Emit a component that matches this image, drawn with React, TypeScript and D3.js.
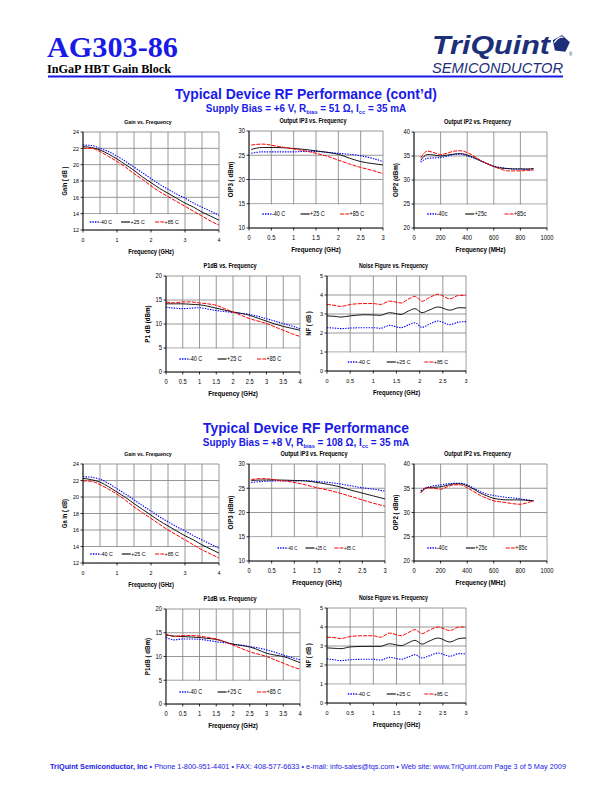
import React from 'react';
import * as d3 from 'd3';

// ---------- DATA ----------
const legendC = ['-40 C', '+25 C', '+85 C'];
const legendc = ['-40c', '+25c', '+85c'];

const gainFreq = [0, 0.25, 0.5, 0.75, 1, 1.25, 1.5, 1.75, 2, 2.25, 2.5, 2.75, 3, 3.25, 3.5, 3.75, 4];
const gain6Vm40 = [22.4, 22.35, 22.0, 21.6, 21.05, 20.4, 19.7, 19.0, 18.3, 17.6, 17.0, 16.4, 15.9, 15.3, 14.8, 14.3, 13.8];
const gain6V25 = [22.2, 22.1, 21.8, 21.3, 20.7, 20.0, 19.3, 18.5, 17.8, 17.1, 16.5, 15.9, 15.3, 14.8, 14.2, 13.7, 13.2];
const gain6V85 = [22.0, 22.0, 21.6, 21.0, 20.4, 19.7, 18.9, 18.2, 17.4, 16.7, 16.1, 15.5, 14.9, 14.3, 13.7, 13.1, 12.6];
const gain8Vm40 = [22.45, 22.4, 22.15, 21.65, 21.0, 20.35, 19.65, 18.95, 18.3, 17.6, 17.0, 16.4, 15.9, 15.3, 14.8, 14.3, 13.8];
const gain8V25 = [22.25, 22.1, 21.8, 21.25, 20.6, 19.95, 19.2, 18.5, 17.8, 17.1, 16.5, 15.9, 15.3, 14.8, 14.2, 13.7, 13.2];
const gain8V85 = [21.95, 21.9, 21.5, 20.95, 20.35, 19.6, 18.8, 18.1, 17.4, 16.7, 16.0, 15.4, 14.8, 14.2, 13.6, 13.1, 12.6];

const oip3Freq = [0.05, 0.3, 0.6, 1, 1.25, 1.5, 1.75, 2, 2.25, 2.5, 2.75, 3];
const oip3_6Vm40 = [25.4, 25.7, 25.7, 25.7, 25.8, 25.8, 25.6, 25.4, 25.2, 24.9, 24.4, 23.7];
const oip3_6V25 = [26.2, 26.6, 26.6, 26.4, 26.2, 25.9, 25.6, 25.2, 24.4, 23.7, 23.3, 23.0];
const oip3_6V85 = [27.1, 27.3, 26.9, 26.3, 25.9, 25.4, 24.8, 24.0, 23.2, 22.5, 21.9, 21.2];
const oip3_8Vm40 = [26.2, 26.4, 26.5, 26.5, 26.6, 26.4, 26.2, 25.9, 25.5, 25.1, 24.8, 24.4];
const oip3_8V25 = [26.6, 26.7, 26.7, 26.6, 26.5, 26.2, 25.8, 25.3, 24.6, 24.0, 23.4, 22.8];
const oip3_8V85 = [26.8, 27.0, 26.7, 26.2, 25.7, 25.1, 24.6, 24.0, 23.3, 22.6, 21.9, 21.3];

const oip2Freq = [50, 100, 150, 200, 250, 300, 350, 400, 450, 500, 550, 600, 650, 700, 750, 800, 850, 900];
const oip2_6Vm40 = [33.7, 34.5, 34.6, 34.7, 35.0, 35.3, 35.4, 35.0, 34.6, 34.0, 33.4, 32.9, 32.6, 32.4, 32.3, 32.3, 32.2, 32.1];
const oip2_6V25 = [34.1, 35.3, 35.2, 35.0, 35.2, 35.4, 35.5, 35.2, 34.7, 34.0, 33.4, 32.8, 32.5, 32.4, 32.3, 32.3, 32.3, 32.4];
const oip2_6V85 = [34.6, 36.0, 35.7, 35.3, 35.6, 36.0, 36.1, 35.7, 35.0, 34.1, 33.4, 32.8, 32.3, 31.9, 31.9, 31.9, 32.0, 32.1];
const oip2_8Vm40 = [34.5, 35.2, 35.5, 35.7, 35.9, 36.0, 36.0, 35.7, 35.0, 34.3, 33.8, 33.5, 33.3, 33.1, 33.0, 32.8, 32.6, 32.4];
const oip2_8V25 = [34.2, 35.1, 35.2, 35.3, 35.6, 35.9, 35.9, 35.5, 34.8, 34.0, 33.4, 32.9, 32.7, 32.6, 32.6, 32.6, 32.5, 32.4];
const oip2_8V85 = [34.0, 35.1, 35.0, 34.8, 35.3, 35.7, 35.7, 35.1, 34.3, 33.5, 32.9, 32.4, 32.2, 32.0, 31.8, 31.7, 32.0, 32.4];

const p1dbFreq = [0, 0.25, 0.5, 0.75, 1, 1.25, 1.5, 1.75, 2, 2.25, 2.5, 2.75, 3, 3.25, 3.5, 3.75, 4];
const p1db_6Vm40 = [13.5, 13.3, 13.2, 13.3, 13.4, 13.1, 12.8, 12.6, 12.4, 12.2, 12.0, 11.6, 11.1, 10.6, 10.1, 9.6, 9.0];
const p1db_6V25 = [14.2, 14.2, 14.2, 14.1, 14.0, 13.7, 13.3, 12.9, 12.5, 12.2, 11.8, 11.2, 10.6, 10.0, 9.5, 9.1, 8.7];
const p1db_6V85 = [14.6, 14.4, 14.6, 14.6, 14.4, 14.2, 13.9, 13.2, 12.5, 11.8, 11.1, 10.6, 10.1, 9.4, 8.7, 8.0, 7.4];
const p1db_8Vm40 = [14.0, 13.5, 13.7, 13.7, 13.6, 13.4, 13.1, 12.9, 12.6, 12.4, 12.1, 11.8, 11.4, 10.9, 10.3, 9.8, 9.3];
const p1db_8V25 = [14.5, 14.3, 14.2, 14.1, 14.0, 13.8, 13.6, 13.1, 12.6, 12.3, 12.0, 11.4, 10.7, 10.3, 10.0, 9.4, 8.7];
const p1db_8V85 = [14.7, 14.2, 14.4, 14.4, 14.3, 14.0, 13.7, 13.1, 12.4, 11.7, 11.0, 10.5, 10.0, 9.3, 8.6, 7.9, 7.3];

const nfFreq = [0, 0.15, 0.3, 0.5, 0.8, 1, 1.15, 1.35, 1.6, 1.75, 1.9, 2.05, 2.2, 2.4, 2.65, 2.85, 3];
const nf_6Vm40 = [2.28, 2.26, 2.23, 2.26, 2.28, 2.28, 2.25, 2.40, 2.28, 2.42, 2.54, 2.30, 2.45, 2.63, 2.44, 2.58, 2.60];
const nf_6V25 = [2.90, 2.88, 2.84, 2.90, 2.96, 2.95, 2.93, 3.07, 2.98, 3.15, 3.28, 3.07, 3.20, 3.37, 3.20, 3.33, 3.32];
const nf_6V85 = [3.50, 3.46, 3.40, 3.50, 3.55, 3.55, 3.50, 3.68, 3.58, 3.78, 3.93, 3.67, 3.85, 4.04, 3.80, 3.98, 3.98];
const nf_8Vm40 = [2.32, 2.28, 2.23, 2.28, 2.30, 2.30, 2.26, 2.40, 2.30, 2.42, 2.54, 2.37, 2.48, 2.63, 2.46, 2.60, 2.58];
const nf_8V25 = [2.90, 2.88, 2.86, 2.95, 2.98, 2.98, 2.98, 3.12, 3.02, 3.16, 3.30, 3.10, 3.25, 3.42, 3.21, 3.39, 3.42];
const nf_8V85 = [3.46, 3.44, 3.39, 3.50, 3.54, 3.54, 3.46, 3.68, 3.54, 3.70, 3.86, 3.65, 3.82, 4.00, 3.81, 4.00, 4.00];

const ticksGain = [12, 14, 16, 18, 20, 22, 24];
const ticksGainX = [0, 1, 2, 3, 4];
const ticksOip3 = [10, 15, 20, 25, 30];
const ticksOip2 = [20, 25, 30, 35, 40];
const ticksP1 = [0, 5, 10, 15, 20];
const ticksNF = [0, 1, 2, 3, 4, 5];
const ticks3G = [0, 0.5, 1, 1.5, 2, 2.5, 3];
const ticks4G = [0, 0.5, 1, 1.5, 2, 2.5, 3, 3.5, 4];
const ticksMHz = [0, 200, 400, 600, 800, 1000];

// ---------- STYLE ----------
const FONT = 'Liberation Sans, Arial, Helvetica, sans-serif';
const HEAD_BLUE = '#1a1ae8';
const LOGO_BLUE = '#1c2f78';
const STYLES = [
  { color: '#0000ff', dash: '1.4,1.2', width: 1.1 },
  { color: '#000000', dash: '', width: 0.9 },
  { color: '#ff0000', dash: '4,1.2', width: 1.0 },
];

function CText(props: any) {
  const x = props.x;
  const y = props.y;
  const size = props.size;
  const sx = props.sx ?? 0.85;
  const anchor = props.anchor ?? 'middle';
  const weight = props.weight ?? 'normal';
  const rotate = props.rotate ?? 0;
  const fill = props.fill ?? '#000';
  const tr = 'translate(' + x + ',' + y + ')' + (rotate ? ' rotate(' + rotate + ')' : '') + ' scale(' + sx + ',1)';
  return (
    <text transform={tr} fontSize={size} fontWeight={weight} textAnchor={anchor} fontFamily={FONT} fill={fill}>
      {props.children}
    </text>
  );
}

function Chart(props: any) {
  const c = props.c;
  const xs = d3.scaleLinear().domain(c.xDomain).range([c.L, c.R]);
  const ys = d3.scaleLinear().domain(c.yDomain).range([c.B, c.T]);
  const line = d3
    .line<[number, number]>()
    .x((d) => xs(d[0]))
    .y((d) => ys(d[1]))
    .curve(d3.curveMonotoneX);
  const grid = '#8c8c8c';
  const boxTop = ys(c.yTicks[1]) + 0.6;
  const w = c.R - c.L;
  const cx = (c.L + c.R) / 2;
  return (
    <g>
      {c.xGrid.map((v: number) => (
        <line key={'gx' + v} x1={xs(v)} x2={xs(v)} y1={c.T} y2={c.B} stroke={grid} strokeWidth={0.9} />
      ))}
      {c.yTicks.map((v: number) => (
        <line key={'gy' + v} x1={c.L} x2={c.R} y1={ys(v)} y2={ys(v)} stroke={grid} strokeWidth={0.9} />
      ))}
      <rect x={c.L + 0.6} y={boxTop} width={w * c.legendBox} height={c.B - boxTop - 0.6} fill="#fff" />
      {c.ys.map((yy: number[], i: number) => (
        <path
          key={'s' + i}
          d={line(c.x.map((xv: number, j: number) => [xv, yy[j]] as [number, number])) || ''}
          fill="none"
          stroke={STYLES[i].color}
          strokeWidth={STYLES[i].width}
          strokeDasharray={STYLES[i].dash || undefined}
        />
      ))}
      <line x1={c.L} x2={c.L} y1={c.T} y2={c.B} stroke="#000" strokeWidth={0.9} />
      <line x1={c.L} x2={c.R} y1={c.B} y2={c.B} stroke="#000" strokeWidth={0.9} />
      {c.yTicks.map((v: number) => (
        <g key={'yt' + v}>
          <line x1={c.L - 2.5} x2={c.L} y1={ys(v)} y2={ys(v)} stroke="#000" strokeWidth={0.8} />
          <CText x={c.L - 4} y={ys(v) + 2.3} size={6.6 * c.fs} anchor="end" sx={0.88}>
            {String(v)}
          </CText>
        </g>
      ))}
      {c.xTicks.map((v: number) => (
        <g key={'xt' + v}>
          <line x1={xs(v)} x2={xs(v)} y1={c.B} y2={c.B + 2.5} stroke="#000" strokeWidth={0.8} />
          <CText x={xs(v)} y={c.B + 12} size={6.6 * c.fs} sx={0.88}>
            {String(v)}
          </CText>
        </g>
      ))}
      <CText x={cx - 3} y={c.T - 8} size={6.8 * c.fs} weight="bold" sx={0.82}>
        {c.title}
      </CText>
      <CText x={cx} y={c.B + 24} size={7.4 * c.fs} weight="bold" sx={0.84}>
        {c.xLabel}
      </CText>
      <CText x={c.L - 16} y={(c.T + c.B) / 2} size={7.4 * c.fs} weight="bold" sx={0.84} rotate={-90}>
        {c.yLabel}
      </CText>
      {c.legend.map((lab: string, i: number) => {
        const lx = c.L + c.legendFrac[i] * w;
        const ly = c.B - c.legendDy;
        return (
          <g key={'lg' + i}>
            <line
              x1={lx}
              x2={lx + 9}
              y1={ly}
              y2={ly}
              stroke={STYLES[i].color}
              strokeWidth={STYLES[i].width + 0.2}
              strokeDasharray={STYLES[i].dash || undefined}
            />
            <CText x={lx + 9.5} y={ly + 2.2} size={c.legendFs} anchor="start" sx={0.85}>
              {lab}
            </CText>
          </g>
        );
      })}
    </g>
  );
}

function halfSteps(a: number, b: number) {
  return d3.range(a, b + 0.001, 0.5);
}

function buildCharts() {
  return [
    {
      L: 83, R: 219, T: 132, B: 230, xDomain: [0, 4], yDomain: [12, 24], xTicks: ticksGainX, xGrid: halfSteps(0, 4), yTicks: ticksGain,
      title: 'Gain vs. Frequency', yLabel: 'Gain ( dB )', xLabel: 'Frequency (GHz)',
      x: gainFreq, ys: [gain6Vm40, gain6V25, gain6V85], legend: legendC, legendFrac: [0.05, 0.28, 0.53], legendDy: 8, legendBox: 0.72, fs: 0.92, legendFs: 6.2,
    },
    {
      L: 249, R: 383, T: 131, B: 228, xDomain: [0, 3], yDomain: [10, 30], xTicks: ticks3G, xGrid: ticks3G, yTicks: ticksOip3,
      title: 'Output IP3 vs. Frequency', yLabel: 'OIP3 ( dBm)', xLabel: 'Frequency (GHz)',
      x: oip3Freq, ys: [oip3_6Vm40, oip3_6V25, oip3_6V85], legend: legendC, legendFrac: [0.1, 0.385, 0.68], legendDy: 14, legendBox: 0.99, fs: 1, legendFs: 6.4,
    },
    {
      L: 414, R: 547, T: 132, B: 228, xDomain: [0, 1000], yDomain: [20, 40], xTicks: ticksMHz, xGrid: ticksMHz, yTicks: ticksOip2,
      title: 'Output IP2 vs. Frequency', yLabel: 'OIP2 (dBm)', xLabel: 'Frequency (MHz)',
      x: oip2Freq, ys: [oip2_6Vm40, oip2_6V25, oip2_6V85], legend: legendc, legendFrac: [0.1, 0.385, 0.68], legendDy: 14, legendBox: 0.99, fs: 1, legendFs: 6.4,
    },
    {
      L: 166, R: 300, T: 276, B: 372, xDomain: [0, 4], yDomain: [0, 20], xTicks: ticks4G, xGrid: ticks4G, yTicks: ticksP1,
      title: 'P1dB vs. Frequency', yLabel: 'P1 dB (dBm)', xLabel: 'Frequency (GHz)',
      x: p1dbFreq, ys: [p1db_6Vm40, p1db_6V25, p1db_6V85], legend: legendC, legendFrac: [0.1, 0.385, 0.68], legendDy: 13, legendBox: 0.99, fs: 1, legendFs: 6.4,
    },
    {
      L: 327, R: 466, T: 276, B: 371, xDomain: [0, 3], yDomain: [0, 5], xTicks: ticks3G, xGrid: ticks3G, yTicks: ticksNF,
      title: 'Noise Figure vs. Frequency', yLabel: 'NF ( dB )', xLabel: 'Frequency (GHz)',
      x: nfFreq, ys: [nf_6Vm40, nf_6V25, nf_6V85], legend: legendC, legendFrac: [0.15, 0.43, 0.7], legendDy: 9, legendBox: 0.99, fs: 0.95, legendFs: 6.2,
    },
    {
      L: 83, R: 219, T: 464, B: 563, xDomain: [0, 4], yDomain: [12, 24], xTicks: ticksGainX, xGrid: halfSteps(0, 4), yTicks: ticksGain,
      title: 'Gain vs. Frequency', yLabel: 'Ga in ( dB)', xLabel: 'Frequency (GHz)',
      x: gainFreq, ys: [gain8Vm40, gain8V25, gain8V85], legend: legendC, legendFrac: [0.054, 0.285, 0.53], legendDy: 9, legendBox: 0.72, fs: 0.92, legendFs: 6.2,
    },
    {
      L: 249, R: 385, T: 464, B: 561, xDomain: [0, 3], yDomain: [10, 30], xTicks: ticks3G, xGrid: ticks3G, yTicks: ticksOip3,
      title: 'Output IP3 vs. Frequency', yLabel: 'OIP3 (dBm)', xLabel: 'Frequency (GHz)',
      x: oip3Freq, ys: [oip3_8Vm40, oip3_8V25, oip3_8V85], legend: legendC, legendFrac: [0.21, 0.415, 0.628], legendDy: 13, legendBox: 0.99, fs: 1, legendFs: 5,
    },
    {
      L: 414, R: 547, T: 464, B: 561, xDomain: [0, 1000], yDomain: [20, 40], xTicks: ticksMHz, xGrid: ticksMHz, yTicks: ticksOip2,
      title: 'Output IP2 vs. Frequency', yLabel: 'OIP2 ( dBm)', xLabel: 'Frequency (MHz)',
      x: oip2Freq, ys: [oip2_8Vm40, oip2_8V25, oip2_8V85], legend: legendc, legendFrac: [0.1, 0.39, 0.69], legendDy: 13, legendBox: 0.99, fs: 1, legendFs: 6.4,
    },
    {
      L: 166, R: 300, T: 609, B: 704, xDomain: [0, 4], yDomain: [0, 20], xTicks: ticks4G, xGrid: ticks4G, yTicks: ticksP1,
      title: 'P1dB vs. Frequency', yLabel: 'P1dB ( dBm)', xLabel: 'Frequency (GHz)',
      x: p1dbFreq, ys: [p1db_8Vm40, p1db_8V25, p1db_8V85], legend: legendC, legendFrac: [0.1, 0.385, 0.68], legendDy: 12, legendBox: 0.99, fs: 1, legendFs: 6.4,
    },
    {
      L: 327, R: 466, T: 608, B: 703, xDomain: [0, 3], yDomain: [0, 5], xTicks: ticks3G, xGrid: ticks3G, yTicks: ticksNF,
      title: 'Noise Figure vs. Frequency', yLabel: 'NF ( dB )', xLabel: 'Frequency (GHz)',
      x: nfFreq, ys: [nf_8Vm40, nf_8V25, nf_8V85], legend: legendC, legendFrac: [0.15, 0.43, 0.7], legendDy: 9, legendBox: 0.99, fs: 0.95, legendFs: 6.2,
    },
  ];
}

function Pentagon(props: any) {
  const cx = props.cx;
  const cy = props.cy;
  const r = props.r;
  const pts = d3.range(5).map((i) => {
    const a = -Math.PI / 2 + (i * 2 * Math.PI) / 5 + 0.12;
    return [cx + r * Math.cos(a), cy + r * Math.sin(a)];
  });
  const d = 'M' + pts.map((p) => p.join(',')).join('L') + 'Z';
  return (
    <g>
      <path d={d} fill={LOGO_BLUE} />
      <path
        d={'M' + (cx - r * 0.75) + ',' + (cy - r * 0.15) + ' Q' + (cx - r * 0.3) + ',' + (cy - r * 0.85) + ' ' + (cx + r * 0.25) + ',' + (cy - r * 0.75)}
        fill="none"
        stroke="#fff"
        strokeWidth={1.3}
      />
    </g>
  );
}

function Subtitle(props: any) {
  const tr = 'translate(306,' + props.y + ') scale(' + props.sx + ',1)';
  return (
    <text transform={tr} textAnchor="middle" fontFamily={FONT} fontWeight="bold" fontSize={10.5} fill={HEAD_BLUE}>
      {props.pre}
      <tspan fontSize={6} dy={2}>bias</tspan>
      <tspan dy={-2}>{props.mid}</tspan>
      <tspan fontSize={6} dy={2}>cc</tspan>
      <tspan dy={-2}>{' = 35 mA'}</tspan>
    </text>
  );
}

export default function App() {
  const charts = buildCharts();
  return (
    <svg width={612} height={792} style={{ position: 'absolute', left: 0, top: 0, background: '#fff' }}>
      <rect width={612} height={792} fill="#fff" />
      <text x={47} y={56.5} fontFamily="Liberation Serif, Times New Roman, serif" fontWeight="bold" fontSize={29} fill={HEAD_BLUE} textLength={131} lengthAdjust="spacingAndGlyphs">
        AG303-86
      </text>
      <text x={47} y={72.5} fontFamily="Liberation Serif, Times New Roman, serif" fontWeight="bold" fontSize={11.5} fill="#000" textLength={124} lengthAdjust="spacingAndGlyphs">
        InGaP HBT Gain Block
      </text>
      <text x={432} y={54} fontFamily={FONT} fontWeight="bold" fontStyle="italic" fontSize={25.5} fill={LOGO_BLUE} textLength={118} lengthAdjust="spacingAndGlyphs">
        TriQuint
      </text>
      <Pentagon cx={561} cy={44} r={9} />
      <text x={569} y={56} fontFamily={FONT} fontSize={4.5} fill={LOGO_BLUE}>®</text>
      <text x={432} y={72.5} fontFamily={FONT} fontStyle="italic" fontSize={14.5} fill={LOGO_BLUE} textLength={131} lengthAdjust="spacingAndGlyphs">
        SEMICONDUCTOR
      </text>
      <line x1={48} x2={563} y1={76.5} y2={76.5} stroke={HEAD_BLUE} strokeWidth={2} />

      <text x={306} y={98.5} textAnchor="middle" fontFamily={FONT} fontWeight="bold" fontSize={15.5} fill={HEAD_BLUE} textLength={262} lengthAdjust="spacingAndGlyphs">
        Typical Device RF Performance (cont’d)
      </text>
      <Subtitle y={112} sx={0.945} pre="Supply Bias = +6 V, R" mid=" = 51 Ω, I" />

      <text x={306} y={432.5} textAnchor="middle" fontFamily={FONT} fontWeight="bold" fontSize={15.5} fill={HEAD_BLUE} textLength={206} lengthAdjust="spacingAndGlyphs">
        Typical Device RF Performance
      </text>
      <Subtitle y={446} sx={0.947} pre="Supply Bias = +8 V, R" mid=" = 108 Ω, I" />

      {charts.map((c, i) => (
        <Chart key={i} c={c} />
      ))}

      <text x={50} y={769} fontFamily={FONT} fontSize={7.2} fill={HEAD_BLUE} textLength={516} lengthAdjust="spacingAndGlyphs">
        <tspan fontWeight="bold">TriQuint Semiconductor, Inc</tspan>
        {'  •  Phone 1-800-951-4401  •  FAX: 408-577-6633  •  e-mail: info-sales@tqs.com  •  Web site: www.TriQuint.com      Page 3 of 5   May 2009'}
      </text>
    </svg>
  );
}
